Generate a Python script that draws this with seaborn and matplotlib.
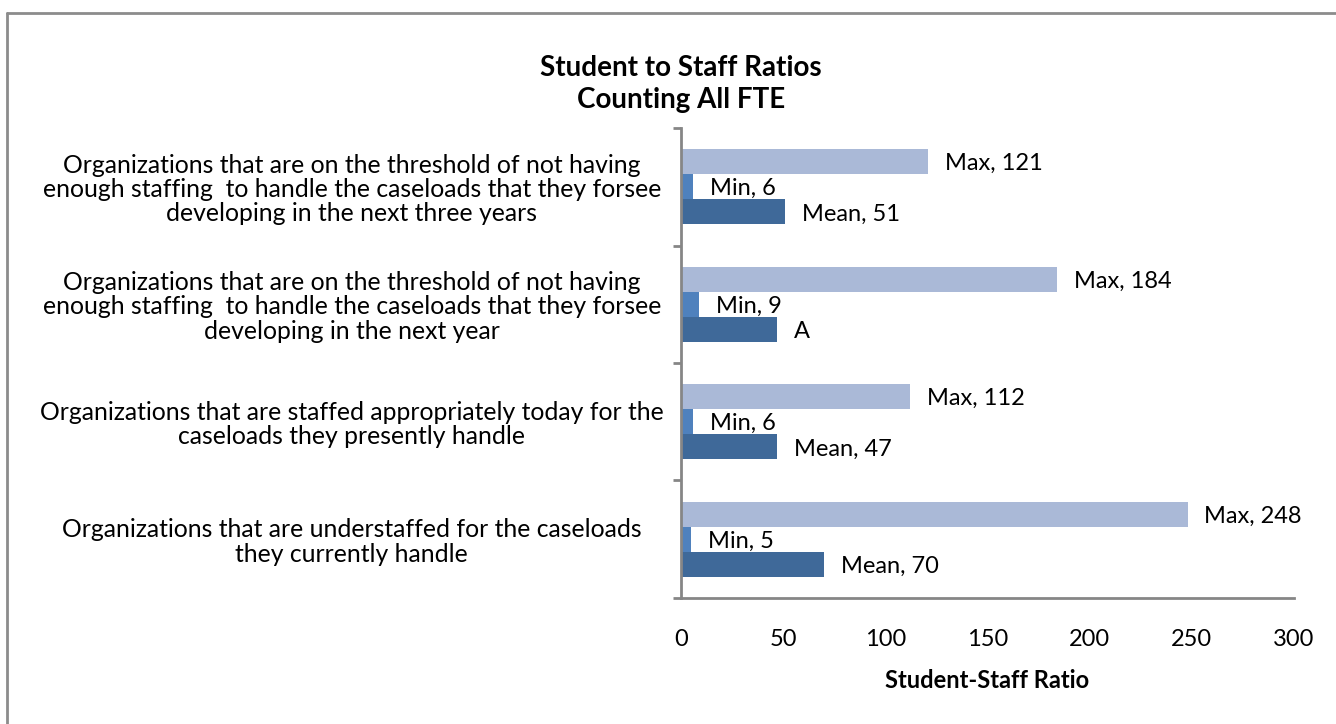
import numpy as np
import pandas as pd
import matplotlib
matplotlib.use("Agg")
import matplotlib.pyplot as plt
import seaborn as sns
from matplotlib.lines import Line2D

# Chart data
categories = [
    "Organizations that are on the threshold of not having\nenough staffing  to handle the caseloads that they forsee\ndeveloping in the next three years",
    "Organizations that are on the threshold of not having\nenough staffing  to handle the caseloads that they forsee\ndeveloping in the next year",
    "Organizations that are staffed appropriately today for the\ncaseloads they presently handle",
    "Organizations that are understaffed for the caseloads\nthey currently handle",
]
series_names = ["Max", "Min", "Mean"]
max_vals = [121, 184, 112, 248]
min_vals = [6, 9, 6, 5]
mean_vals = [51, 47, 47, 70]
# one label in the original reads just "A"
label_overrides = {("Mean", 1): "A"}
x_ticks = [0, 50, 100, 150, 200, 250, 300]

colors = {"Max": "#AAB9D7", "Min": "#4F81BD", "Mean": "#3F6999"}

sns.set_theme(style="white")
plt.rcParams["font.family"] = ["Lato", "DejaVu Sans"]
for k in ["text.color", "axes.labelcolor", "xtick.color", "ytick.color"]:
    plt.rcParams[k] = "black"

rows = []
for i, cat in enumerate(categories):
    rows.append({"cat": cat, "series": "Max", "value": max_vals[i]})
    rows.append({"cat": cat, "series": "Min", "value": min_vals[i]})
    rows.append({"cat": cat, "series": "Mean", "value": mean_vals[i]})
df = pd.DataFrame(rows)

fig = plt.figure(figsize=(13.36, 7.24), dpi=100)
ax = fig.add_axes([681 / 1336, 1 - 598 / 724, 613 / 1336, 470 / 724])

sns.barplot(data=df, x="value", y="cat", hue="series", hue_order=series_names,
            order=categories, palette=colors, orient="h", width=0.64,
            saturation=1, linewidth=0, ax=ax, legend=False)

ax.set_xlim(0, 300)
ax.set_ylim(len(categories) - 0.5, -0.5)

# data labels
for cont, name in zip(ax.containers, series_names):
    for j, bar in enumerate(cont):
        val = bar.get_width()
        txt = label_overrides.get((name, j), f"{name}, {int(val)}")
        ax.annotate(txt, (val, bar.get_y() + bar.get_height() / 2),
                    xytext=(12, -1.5), textcoords="offset points",
                    va="center", ha="left", fontsize=17, color="black")

# axes styling
for s in ["top", "right"]:
    ax.spines[s].set_visible(False)
for s in ["left", "bottom"]:
    ax.spines[s].set_color("#868686")
    ax.spines[s].set_linewidth(2)

ax.set_xticks(x_ticks)
ax.set_xticklabels([str(t) for t in x_ticks], fontsize=17)
ax.tick_params(axis="x", direction="out", length=6, width=2, color="#868686", pad=16)

bounds = np.arange(len(categories) + 1) - 0.5
ax.set_yticks(bounds)
ax.set_yticklabels([])
ax.set_yticks(range(len(categories)), minor=True)
ax.set_yticklabels(categories, minor=True, fontsize=17.8, ha="center",
                   linespacing=1.07)
ax.tick_params(axis="y", which="major", direction="out", length=6, width=2,
               color="#868686", left=True)
ax.tick_params(axis="y", which="minor", length=0, pad=237)

ax.set_xlabel("Student-Staff Ratio", fontsize=17, fontweight="bold", labelpad=14)
ax.set_ylabel("")

fig.text(681 / 1336, 1 - 84 / 724, "Student to Staff Ratios\nCounting All FTE",
         ha="center", va="center", fontsize=20, fontweight="bold",
         linespacing=1.3)

# outer chart frame
fig.add_artist(Line2D([7 / 1336, 1], [1 - 13 / 724] * 2, transform=fig.transFigure,
                      color="#8C8C8C", lw=2))
fig.add_artist(Line2D([7 / 1336] * 2, [0, 1 - 13 / 724], transform=fig.transFigure,
                      color="#8C8C8C", lw=2))

fig.savefig("out.png", dpi=100, facecolor="white")
